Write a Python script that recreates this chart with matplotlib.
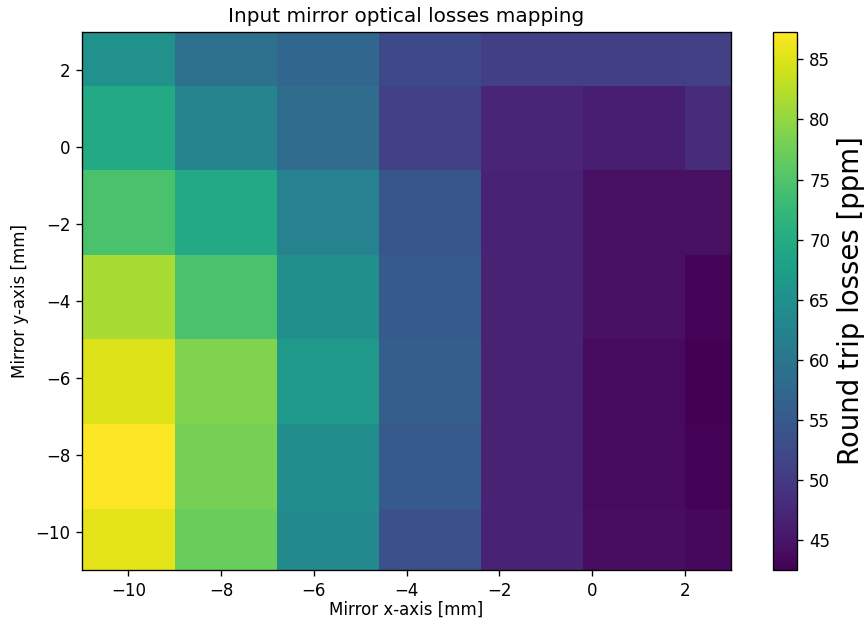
import numpy as np
import matplotlib
matplotlib.use("Agg")
from matplotlib import pyplot as plt

# cell edges of the map [mm]
x_edges = [-11, -9, -6.8, -4.6, -2.4, -0.2, 2, 3]
y_edges = [-11, -9.4, -7.2, -5.0, -2.8, -0.6, 1.6, 3]

# round trip losses [ppm], rows from bottom (y=-10) to top (y=2), columns left to right
row_m10 = [85.5, 77.0, 63.8, 53.5, 46.8, 44.0, 43.4]
row_m8 = [87.3, 78.0, 64.5, 55.0, 46.8, 43.8, 42.8]
row_m6 = [85.0, 78.8, 66.5, 55.8, 46.8, 43.8, 42.5]
row_m4 = [81.5, 74.5, 64.8, 55.0, 46.8, 44.3, 43.0]
row_m2 = [74.5, 69.5, 62.2, 54.5, 46.8, 44.3, 44.3]
row_0 = [69.5, 62.8, 58.2, 51.2, 47.2, 46.2, 48.0]
row_2 = [65.0, 59.0, 57.2, 52.4, 50.8, 50.8, 51.2]

losses = np.array([row_m10, row_m8, row_m6, row_m4, row_m2, row_0, row_2])

fig = plt.figure(figsize=(7.2, 623 / 120), dpi=120)
ax = fig.add_axes([0.095, 0.085, 0.751, 0.864])
cax = fig.add_axes([0.895, 0.085, 0.028, 0.864])

mesh = ax.pcolormesh(x_edges, y_edges, losses, cmap="viridis")
ax.set_xlim(-11, 3)
ax.set_ylim(-11, 3)
ax.set_xticks([-10, -8, -6, -4, -2, 0, 2])
ax.set_yticks([-10, -8, -6, -4, -2, 0, 2])
ax.set_title("Input mirror optical losses mapping")
ax.set_xlabel("Mirror x-axis [mm]", labelpad=0.5)
ax.set_ylabel("Mirror y-axis [mm]")

cb = fig.colorbar(mesh, cax=cax)
cb.set_label("Round trip losses [ppm]", fontsize=16.5)

fig.savefig("out.png", dpi=120)
